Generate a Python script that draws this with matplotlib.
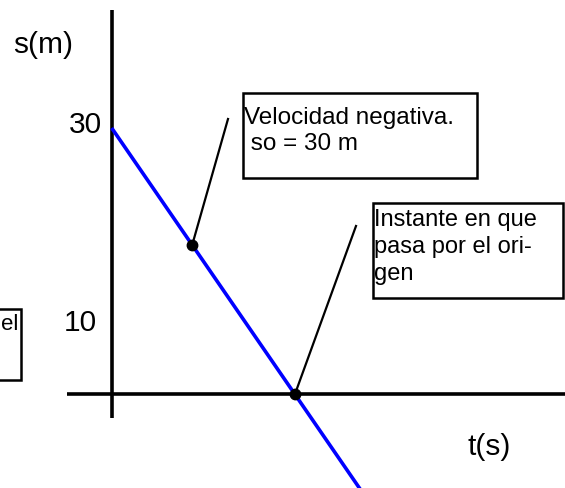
import matplotlib
matplotlib.use("Agg")
import matplotlib.pyplot as plt
from matplotlib.patches import Rectangle

plt.rcParams['font.family'] = ['Liberation Sans', 'DejaVu Sans']

# ---- data ----
line_t = [0.0, 4.1]          # t(s)
line_s = [30.0, -11.0]       # s(m)
dot_t = [1.32, 3.0]
dot_s = [16.8, 0.0]
tick_labels = ["30", "10"]
axis_labels = ["s(m)", "t(s)"]
box1_text = "Velocidad negativa.\n so = 30 m"
box2_text = "Instante en que\npasa por el ori-\ngen"
box3_text = "el"

W, H = 565, 488
fig = plt.figure(figsize=(W / 100, H / 100), dpi=100)

# pixel mapping: t=0 at px 111.7, 61 px per second; s=0 at py 394, 8.867 px per metre
X0, PX_T = 111.7, 61.0
Y0, PX_S = 394.0, 8.867

ax = fig.add_axes([0, 0, 1, 1])
ax.set_xlim(-X0 / PX_T, (W - X0) / PX_T)
ax.set_ylim(-(H - Y0) / PX_S, Y0 / PX_S)
ax.axis('off')

# overlay in pixel coords for annotations
ov = fig.add_axes([0, 0, 1, 1], facecolor='none')
ov.set_xlim(0, W)
ov.set_ylim(H, 0)
ov.axis('off')

def px_t(px):
    return (px - X0) / PX_T

def py_s(py):
    return (Y0 - py) / PX_S

# axes lines
ax.plot([0, 0], [py_s(10), py_s(418)], color='black', lw=2.6, solid_capstyle='butt', zorder=2)
ax.plot([px_t(67), px_t(W + 5)], [0, 0], color='black', lw=2.6, solid_capstyle='butt', zorder=2)

# the blue s(t) line
ax.plot(line_t, line_s, color='#0000ff', lw=2.6, solid_capstyle='butt', zorder=3)

# leader lines
ov.plot([191.7, 228], [246.7, 119], color='black', lw=1.6, zorder=4)
ov.plot([295, 356], [394, 226], color='black', lw=1.6, zorder=4)

# dots
ax.plot(dot_t, dot_s, 'o', color='black', ms=7.5, zorder=5)

# axis labels and tick labels
ov.text(43, 45, axis_labels[0], fontsize=21.5, ha='center', va='center')
ov.text(489, 447, axis_labels[1], fontsize=21.5, ha='center', va='center')
ov.text(85, 125, tick_labels[0], fontsize=21.5, ha='center', va='center')
ov.text(80, 323, tick_labels[1], fontsize=21.5, ha='center', va='center')

# boxes
ov.add_patch(Rectangle((243, 93), 234, 85, fill=False, ec='black', lw=1.8, zorder=6))
ov.text(244, 107, box1_text, fontsize=17.5, ha='left', va='top', linespacing=1.25, zorder=7)

ov.add_patch(Rectangle((373, 203), 190, 95, fill=False, ec='black', lw=1.8, zorder=6))
ov.text(374, 209, box2_text, fontsize=17, ha='left', va='top', linespacing=1.3, zorder=7)

ov.add_patch(Rectangle((-10, 309), 31, 71, fill=False, ec='black', lw=1.8, zorder=6))
ov.text(1, 324, box3_text, fontsize=16, ha='left', va='center', zorder=7)

fig.savefig("out.png", dpi=100)
